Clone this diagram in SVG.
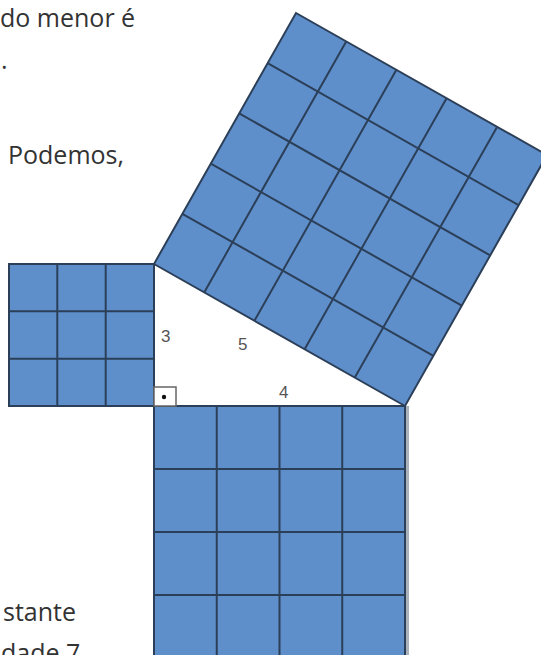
<svg xmlns="http://www.w3.org/2000/svg" width="541" height="655" viewBox="0 0 541 655">
<style>
.txt{font-family:"Open Sans","Noto Sans",sans-serif;font-size:25px;fill:#333}
.sq{fill:#5e8fcb;stroke:#2c3f58;stroke-width:2}
.grid{fill:none;stroke:#2c3f58;stroke-width:2}
.lbl{font-family:"Liberation Sans",Arial,sans-serif;font-size:17px;fill:#555}
</style>
<rect width="541" height="655" fill="#fff"/>
<g id="text">
<text class="txt" x="0" y="27">do menor é</text>
<text class="txt" x="1" y="69">.</text>
<text class="txt" x="8" y="164">Podemos,</text>
<text class="txt" x="3" y="621">stante</text>
<text class="txt" x="1" y="662">dade 7</text>
</g>
<g id="square-3">
<rect class="sq" x="9" y="264" width="145" height="142"/>
<path class="grid" d="M57.3 264V406M105.7 264V406M9 311.3H154M9 358.7H154"/>
</g>
<g id="square-4">
<line x1="407.5" y1="406" x2="407.5" y2="655" stroke="#a9b1bb" stroke-width="3"/>
<rect class="sq" x="154" y="406" width="251" height="252"/>
<path class="grid" d="M216.75 406V658M279.5 406V658M342.25 406V658M154 469H405M154 532H405M154 595H405"/>
</g>
<g id="square-5">
<polygon class="sq" points="154,264 405,406 547,155 296,13"/>
<path class="grid" d="M204.2 292.4L346.2 41.4M254.4 320.8L396.4 69.8M304.6 349.2L446.6 98.2M354.8 377.6L496.8 127.6M182.4 213.8L433.4 355.8M210.8 163.6L461.8 305.6M239.2 113.4L490.2 255.4M267.6 63.2L518.6 205.2"/>
</g>
<g id="triangle">
<rect x="154" y="387" width="22" height="19" fill="#fff" stroke="#666" stroke-width="1.5"/>
<circle cx="164" cy="397" r="2.2" fill="#111"/>
<text class="lbl" x="161" y="342">3</text>
<text class="lbl" x="238" y="350">5</text>
<text class="lbl" x="279" y="398">4</text>
</g>
</svg>
